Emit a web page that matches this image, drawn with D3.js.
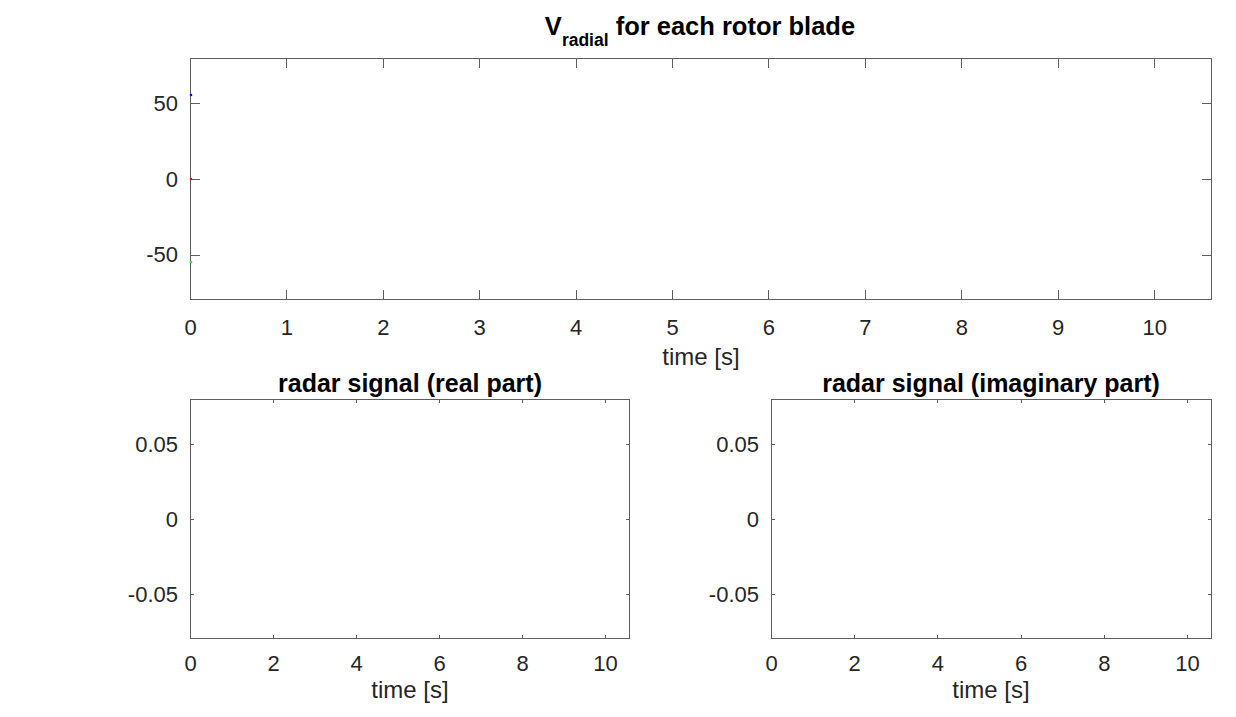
<!DOCTYPE html>
<html><head><meta charset="utf-8">
<script src="https://cdn.jsdelivr.net/npm/d3@7"></script>
<style>
html,body{margin:0;padding:0;background:#fff;}
svg{display:block;font-family:"Liberation Sans",Arial,sans-serif;}
</style></head>
<body><svg id="c" width="1236" height="717"></svg>
<script>
// ---- data ----
const bladeTime = [0];
const bladeBlue = [55.5];
const bladeRed = [0];
const bladeGreen = [-55];
const radarTime = [];
const radarReal = [];
const radarImag = [];
const topXTicks = [0,1,2,3,4,5,6,7,8,9,10];
const topYTicks = [-50,0,50];
const botXTicks = [0,2,4,6,8,10];
const botYTicks = [-0.05,0,0.05];
const topYLabels = {"-50":"-50","0":"0","50":"50"};
const botYLabels = {"-0.05":"-0.05","0":"0","0.05":"0.05"};

const svg = d3.select("#c");
const textCol = "#262626", axCol = "#5e5e5e";

function panel(o){
  const g = svg.append("g");
  const x = d3.scaleLinear().domain(o.xd).range([o.l,o.r]);
  const y = d3.scaleLinear().domain(o.yd).range([o.b,o.t]);
  g.append("rect").attr("x",o.l).attr("y",o.t).attr("width",o.r-o.l).attr("height",o.b-o.t)
   .attr("fill","#fff");
  const tl = o.tick;
  const ax = (gen, tr) => {
    const a = g.append("g").attr("transform",tr).call(gen);
    a.select(".domain").remove();
    a.selectAll(".tick line").attr("stroke",axCol).attr("shape-rendering","crispEdges");
    a.selectAll("text").attr("fill",textCol).attr("font-size",o.fs).attr("font-family","'Liberation Sans',Arial,sans-serif");
    return a;
  };
  ax(d3.axisBottom(x).tickValues(o.xt).tickSize(-tl).tickPadding(o.xpad).tickFormat(d3.format("d")), `translate(0,${o.b})`);
  ax(d3.axisTop(x).tickValues(o.xt).tickSize(-tl).tickFormat(""), `translate(0,${o.t})`);
  ax(d3.axisLeft(y).tickValues(o.yt).tickSize(-tl).tickPadding(o.ypad).tickFormat(o.yf), `translate(${o.l},0)`);
  ax(d3.axisRight(y).tickValues(o.yt).tickSize(-tl).tickFormat(""), `translate(${o.r},0)`);
  g.append("rect").attr("x",o.l+0.5).attr("y",o.t+0.5).attr("width",o.r-o.l-1).attr("height",o.b-o.t-1)
   .attr("fill","none").attr("stroke",axCol).attr("stroke-width",1);
  return {g,x,y};
}

// top panel
const P1 = panel({l:190,r:1212,t:58,b:300,xd:[0,10.6],yd:[-80,80],xt:topXTicks,yt:topYTicks,tick:10,fs:22,xpad:19,ypad:12,yf:d=>topYLabels[String(d)]});
const series = [[bladeBlue,"#0000ff"],[bladeRed,"#ff0000"],[bladeGreen,"#00ff00"]];
series.forEach(([vals,col])=>{
  P1.g.selectAll(null).data(vals).join("circle")
    .attr("cx",(d,i)=>P1.x(bladeTime[i])+1).attr("cy",d=>P1.y(d)).attr("r",1.3).attr("fill",col);
});
const t1 = svg.append("text").attr("x",700).attr("y",35).attr("text-anchor","middle")
  .attr("font-weight","bold").attr("font-size",25.5).attr("fill","#000");
t1.append("tspan").text("V");
t1.append("tspan").attr("font-size",17.5).attr("dy",11).text("radial");
t1.append("tspan").attr("dy",-11).text(" for each rotor blade");
svg.append("text").attr("x",701).attr("y",365).attr("text-anchor","middle").attr("font-size",24).attr("fill",textCol).text("time [s]");

// bottom panels
const fmtY = d => botYLabels[String(d)];
const P2 = panel({l:190,r:630,t:399,b:639,xd:[0,10.6],yd:[-0.08,0.08],xt:botXTicks,yt:botYTicks,tick:4.4,fs:22,xpad:16,ypad:12,yf:fmtY});
const P3 = panel({l:771,r:1212,t:399,b:639,xd:[0,10.6],yd:[-0.08,0.08],xt:botXTicks,yt:botYTicks,tick:4.4,fs:22,xpad:16,ypad:12,yf:fmtY});
const line = (P)=>d3.line().x((d,i)=>P.x(radarTime[i])).y(d=>P.y(d));
P2.g.append("path").datum(radarReal).attr("d",line(P2)).attr("fill","none").attr("stroke","#0072bd");
P3.g.append("path").datum(radarImag).attr("d",line(P3)).attr("fill","none").attr("stroke","#0072bd");
[[410,"radar signal (real part)"],[991,"radar signal (imaginary part)"]].forEach(([cx,t])=>{
  svg.append("text").attr("x",cx).attr("y",392).attr("text-anchor","middle").attr("font-weight","bold")
    .attr("font-size",25).attr("fill","#000").text(t);
});
[[410],[991]].forEach(([cx])=>{
  svg.append("text").attr("x",cx).attr("y",698).attr("text-anchor","middle").attr("font-size",24).attr("fill",textCol).text("time [s]");
});
</script></body></html>
